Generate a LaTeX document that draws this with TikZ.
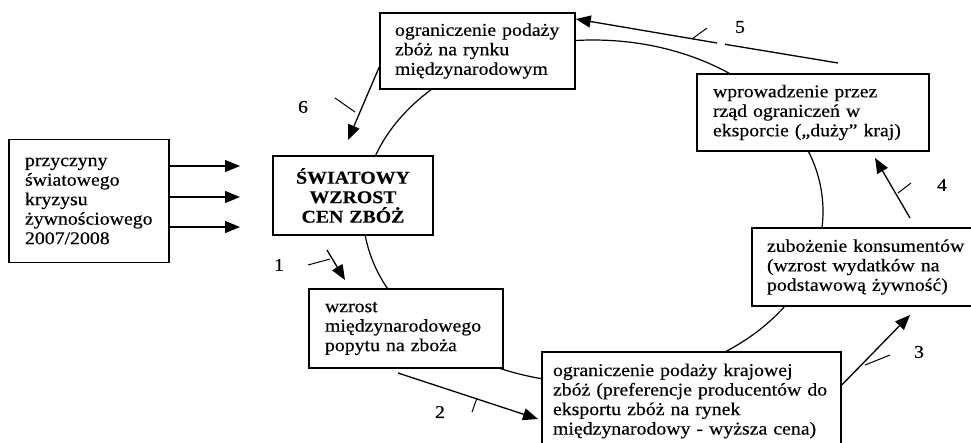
\documentclass[tikz,border=0pt]{standalone}
\usepackage{fontspec}
\setmainfont{Liberation Serif}[FakeStretch=1.1,FakeBold=0.4]
\usetikzlibrary{arrows.meta}
\begin{document}
\begin{tikzpicture}[x=1pt,y=-1pt,
  box/.style={draw,fill=white,line width=1.5pt,align=left,inner ysep=0pt,
    font=\fontsize{18pt}{19.5pt}\selectfont},
  arr/.style={line width=1.3pt,-{Triangle[length=15pt,width=12pt]}},
  plain/.style={line width=1.3pt},
  tickline/.style={line width=1pt},
  num/.style={font=\fontsize{18pt}{20pt}\selectfont,inner sep=0pt},
  ring/.style={line width=1.2pt}]
\useasboundingbox (0,0) rectangle (971,442);
% the cycle
\draw[ring] (593,211.5) ellipse [x radius=230pt, y radius=171.5pt];
% boxes
\node[box,text width=165pt,inner xsep=15pt,minimum height=76pt] (A) at (477.5,51)
  {\mbox{ograniczenie podaży}\\\mbox{zbóż na rynku}\\\mbox{międzynarodowym}};
\node[box,text width=200pt,inner xsep=16pt,minimum height=77pt] (B) at (813,112.5)
  {\mbox{wprowadzenie przez}\\\mbox{rząd ograniczeń w}\\\mbox{eksporcie („duży” kraj)}};
\node[box,text width=198pt,inner xsep=15pt,minimum height=78pt] (C) at (866,267)
  {\mbox{zubożenie konsumentów}\\\mbox{(wzrost wydatków na}\\\mbox{podstawową żywność)}};
\node[box,text width=277pt,inner xsep=11pt,minimum height=98pt] (D) at (691.5,401)
  {\mbox{ograniczenie podaży krajowej}\\\mbox{zbóż (preferencje producentów do}\\\mbox{eksportu zbóż na rynek}\\\mbox{międzynarodowy - wyższa cena)}};
\node[box,text width=162pt,inner xsep=16pt,minimum height=79pt] (E) at (406,328.5)
  {\mbox{wzrost}\\\mbox{międzynarodowego}\\\mbox{popytu na zboża}};
\node[box,align=center,text width=130pt,inner xsep=15pt,minimum height=79pt,
  font=\fontsize{18pt}{19.5pt}\selectfont\bfseries] (F) at (353,195.5)
  {ŚWIATOWY\\WZROST\\CEN ZBÓŻ};
\node[box,text width=128pt,inner xsep=16pt,minimum height=123pt] (G) at (89,201)
  {\mbox{przyczyny}\\\mbox{światowego}\\\mbox{kryzysu}\\\mbox{żywnościowego}\\\mbox{2007/2008}};
% arrows from G
\coordinate (g1) at (240,166);
\coordinate (g2) at (240,197);
\coordinate (g3) at (240,227);
\draw[arr] (G.east |- g1) -- (g1);
\draw[arr] (G.east |- g2) -- (g2);
\draw[arr] (G.east |- g3) -- (g3);
% arrow 1
\coordinate (p1s) at (327,250);
\coordinate (p1t) at (345,280);
\draw[arr] (p1s) -- (p1t);
% arrow 2
\coordinate (p2s) at (398,373);
\coordinate (p2t) at (538,419);
\draw[arr] (p2s) -- (p2t);
% arrow 3
\coordinate (p3s) at (841,385);
\coordinate (p3t) at (910,315);
\draw[arr] (D.east |- p3s) -- (p3t);
% arrow 4
\coordinate (p4s) at (910,218);
\coordinate (p4t) at (875,158);
\draw[arr] (p4s) -- (p4t);
% arrow 5
\coordinate (p5s) at (838,63);
\coordinate (p5a) at (725,44.3);
\coordinate (p5b) at (717,43);
\coordinate (p5t) at (575,19);
\draw[plain] (p5s) -- (p5a);
\draw[arr] (p5b) -- (A.east |- p5t);
% arrow 6
\coordinate (p6s) at (380,67);
\coordinate (p6t) at (348,140);
\draw[arr] (A.west |- p6s) -- (p6t);
% numbers
\node[num] (n1) at (279,265) {1};
\node[num] (n2) at (440,412) {2};
\node[num] (n3) at (919,352) {3};
\node[num] (n4) at (942,185) {4};
\node[num] (n5) at (740,27) {5};
\node[num] (n6) at (303,107) {6};
% leader ticks
\coordinate (t1a) at (308,265); \coordinate (t1b) at (330,259);
\coordinate (t2a) at (472,412); \coordinate (t2b) at (477,398);
\coordinate (t3a) at (865,365); \coordinate (t3b) at (890,355);
\coordinate (t4a) at (898,193); \coordinate (t4b) at (911,183);
\coordinate (t5a) at (692,39);  \coordinate (t5b) at (707,28);
\coordinate (t6a) at (335,98);  \coordinate (t6b) at (355,112);
\draw[tickline] (t1a) -- (t1b);
\draw[tickline] (t2a) -- (t2b);
\draw[tickline] (t3a) -- (t3b);
\draw[tickline] (t4a) -- (t4b);
\draw[tickline] (t5a) -- (t5b);
\draw[tickline] (t6a) -- (t6b);
\end{tikzpicture}
\end{document}
